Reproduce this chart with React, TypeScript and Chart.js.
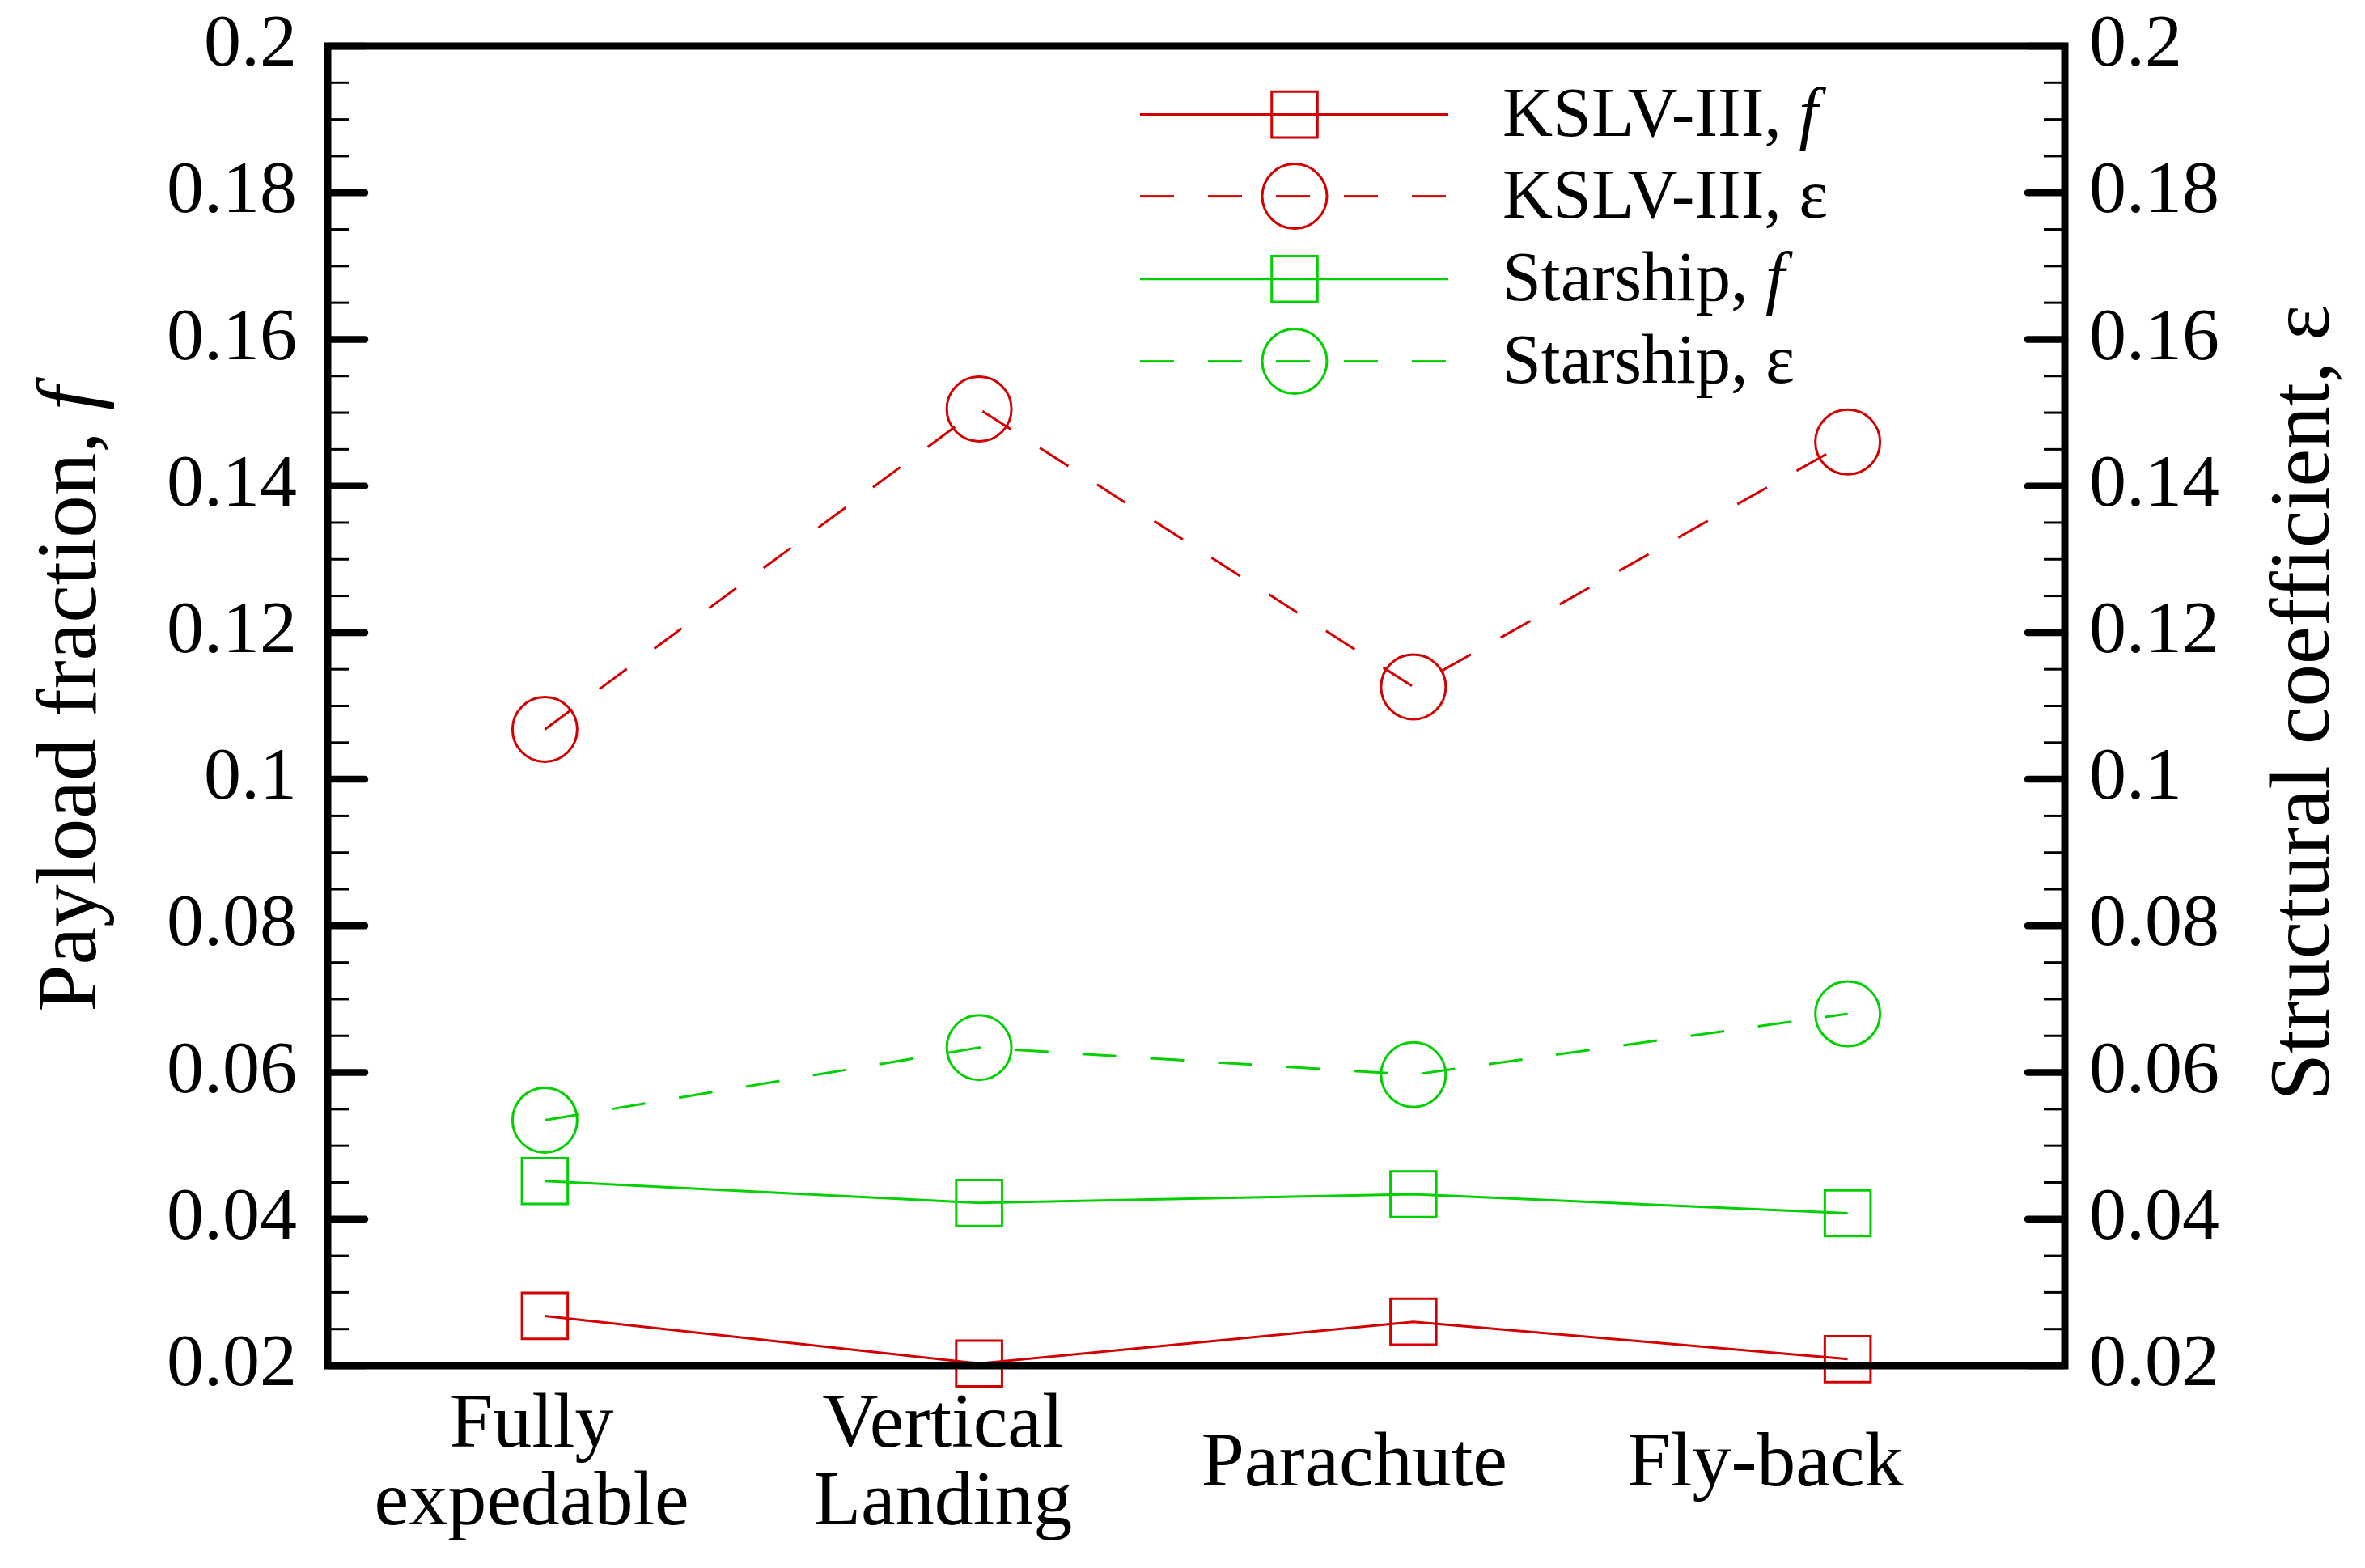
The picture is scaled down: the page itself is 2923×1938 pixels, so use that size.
import React, { useEffect, useRef } from 'react';
import { Chart, registerables } from 'chart.js';

Chart.register(...registerables);

// ---------- data ----------
const categories = ['Fully expedable', 'Vertical Landing', 'Parachute', 'Fly-back'];
const categoryLabelLines = [['Fully', 'expedable'], ['Vertical', 'Landing'], ['Parachute'], ['Fly-back']];
const kslvF = [0.0268, 0.0203, 0.026, 0.0209];
const kslvEps = [0.1068, 0.1505, 0.1126, 0.146];
const starshipF = [0.0452, 0.0422, 0.0434, 0.0408];
const starshipEps = [0.0535, 0.0634, 0.0597, 0.068];
const majorTicks = [0.02, 0.04, 0.06, 0.08, 0.1, 0.12, 0.14, 0.16, 0.18, 0.2];
const minorPerMajor = 4;
const legendNames = ['KSLV-III, ', 'KSLV-III, ', 'Starship, ', 'Starship, '];
const legendSymbols = ['f', 'ε', 'f', 'ε'];
const leftTitleParts = ['Payload fraction, ', 'f'];
const rightTitle = 'Structural coefficient, ε';

const RED = 'rgb(210,0,0)';
const GREEN = 'rgb(0,208,0)';
const FONT = '"Liberation Serif", "Times New Roman", serif';

const W = 2923;
const H = 1938;

function buildYTicks() {
  const out: { value: number; major: boolean }[] = [];
  for (let i = 0; i < majorTicks.length; i++) {
    out.push({ value: majorTicks[i], major: true });
    if (i < majorTicks.length - 1) {
      const a = majorTicks[i];
      const b = majorTicks[i + 1];
      for (let k = 1; k < minorPerMajor; k++) {
        out.push({ value: a + ((b - a) * k) / minorPerMajor, major: false });
      }
    }
  }
  return out;
}

function fmt(v: number) {
  return String(Number(v.toFixed(3)));
}

const framePlugin = {
  id: 'frameTicks',
  afterDatasetsDraw(chart: any) {
    const { ctx, chartArea } = chart;
    const { left, right, top, bottom } = chartArea;
    ctx.save();
    ctx.strokeStyle = '#000';
    const drawTicks = (scale: any, side: 'left' | 'right') => {
      scale.ticks.forEach((t: any) => {
        const py = scale.getPixelForValue(t.value);
        const major = !!t.major;
        const len = major ? 46 : 26;
        ctx.lineWidth = major ? 8.5 : 3;
        ctx.lineCap = major ? 'round' : 'butt';
        ctx.beginPath();
        if (side === 'left') {
          ctx.moveTo(left, py);
          ctx.lineTo(left + len, py);
        } else {
          ctx.moveTo(right, py);
          ctx.lineTo(right - len, py);
        }
        ctx.stroke();
      });
    };
    drawTicks(chart.scales.y, 'left');
    drawTicks(chart.scales.y1, 'right');
    ctx.lineCap = 'butt';
    ctx.lineJoin = 'miter';
    ctx.lineWidth = 9;
    ctx.strokeRect(left, top, right - left, bottom - top);
    ctx.restore();
  },
  afterDraw(chart: any) {
    const { ctx, chartArea } = chart;
    const cy = (chartArea.top + chartArea.bottom) / 2;
    ctx.save();
    ctx.fillStyle = '#000';
    // left title, rotated reading bottom-to-top
    ctx.save();
    ctx.translate(118, cy - 8);
    ctx.rotate(-Math.PI / 2);
    ctx.textBaseline = 'alphabetic';
    ctx.textAlign = 'left';
    ctx.font = `105px ${FONT}`;
    const w1 = ctx.measureText(leftTitleParts[0]).width;
    ctx.font = `italic 105px ${FONT}`;
    const w2 = ctx.measureText(leftTitleParts[1]).width;
    const start = -(w1 + w2) / 2;
    ctx.font = `105px ${FONT}`;
    ctx.fillText(leftTitleParts[0], start, 0);
    ctx.font = `italic 105px ${FONT}`;
    ctx.fillText(leftTitleParts[1], start + w1, 0);
    ctx.restore();
    // right title, also bottom-to-top
    ctx.save();
    ctx.translate(2878, cy - 4);
    ctx.rotate(-Math.PI / 2);
    ctx.textBaseline = 'alphabetic';
    ctx.textAlign = 'center';
    ctx.font = `105px ${FONT}`;
    ctx.fillText(rightTitle, 0, 0);
    ctx.restore();

    // legend
    const rowsY = [141.6, 242.6, 344.8, 446.6];
    const lineX0 = 1409;
    const lineX1 = 1790;
    const markX = 1600;
    const textX = 1857;
    chart.data.datasets.forEach((ds: any, i: number) => {
      const y = rowsY[i];
      ctx.save();
      ctx.strokeStyle = ds.borderColor;
      ctx.lineWidth = ds.borderWidth;
      ctx.setLineDash(ds.borderDash || []);
      ctx.beginPath();
      ctx.moveTo(lineX0, y);
      ctx.lineTo(lineX1, y);
      ctx.stroke();
      ctx.setLineDash([]);
      ctx.lineWidth = ds.pointBorderWidth;
      ctx.beginPath();
      if (ds.pointStyle === 'rect') {
        const s = ds.pointRadius * Math.SQRT1_2;
        ctx.rect(markX - s, y - s, 2 * s, 2 * s);
      } else {
        ctx.arc(markX, y, ds.pointRadius, 0, Math.PI * 2);
      }
      ctx.stroke();
      ctx.restore();

      ctx.fillStyle = '#000';
      ctx.textBaseline = 'alphabetic';
      ctx.textAlign = 'left';
      ctx.font = `86px ${FONT}`;
      const nw = ctx.measureText(legendNames[i]).width;
      ctx.fillText(legendNames[i], textX, y + 26);
      ctx.font = legendSymbols[i] === 'f' ? `italic 86px ${FONT}` : `86px ${FONT}`;
      ctx.fillText(legendSymbols[i], textX + nw, y + 26);
    });
    ctx.restore();
  },
};

function makeDataset(label: string, data: number[], color: string, style: string, dashed: boolean, axis: string) {
  return {
    label,
    data,
    xAxisID: 'x',
    yAxisID: axis,
    borderColor: color,
    backgroundColor: 'transparent',
    borderWidth: 3,
    borderDash: dashed ? [42, 42] : [],
    pointStyle: style,
    pointRadius: 40,
    pointHoverRadius: 40,
    pointBorderWidth: 3,
    pointBorderColor: color,
    pointBackgroundColor: 'transparent',
    tension: 0,
    fill: false,
    clip: false,
  };
}

export default function App() {
  const ref = useRef<HTMLCanvasElement | null>(null);
  useEffect(() => {
    if (!ref.current) return;
    const yTicks = buildYTicks();
    const yAxis = (position: 'left' | 'right', width: number, padding: number) => ({
      type: 'linear',
      position,
      min: majorTicks[0],
      max: majorTicks[majorTicks.length - 1],
      afterBuildTicks: (s: any) => {
        s.ticks = yTicks.map((t) => ({ value: t.value, major: t.major }));
      },
      afterFit: (s: any) => {
        s.width = width;
        s.paddingTop = 0;
        s.paddingBottom = 0;
      },
      grid: { display: false, drawTicks: false },
      border: { display: false },
      ticks: {
        autoSkip: false,
        padding,
        color: '#000',
        font: { family: FONT, size: 92 },
        callback: function (this: any, v: any, idx: number) {
          const t = yTicks[idx];
          return t && t.major ? fmt(Number(v)) : '';
        },
      },
    });
    const chart = new Chart(ref.current, {
      type: 'line',
      data: {
        labels: categories,
        datasets: [
          makeDataset('KSLV-III, f', kslvF, RED, 'rect', false, 'y'),
          makeDataset('KSLV-III, ε', kslvEps, RED, 'circle', true, 'y1'),
          makeDataset('Starship, f', starshipF, GREEN, 'rect', false, 'y'),
          makeDataset('Starship, ε', starshipEps, GREEN, 'circle', true, 'y1'),
        ] as any,
      },
      options: {
        animation: false,
        responsive: false,
        devicePixelRatio: 1,
        events: [],
        layout: { padding: { top: 57, left: 0, right: 0, bottom: 0 } },
        plugins: { legend: { display: false }, tooltip: { enabled: false }, title: { display: false } },
        scales: {
          x: { type: 'category', offset: true, display: false },
          x2: {
            type: 'linear',
            position: 'bottom',
            min: -0.496,
            max: 3.728,
            afterBuildTicks: (s: any) => {
              s.ticks = categoryLabelLines.map((_, i) => ({ value: i }));
            },
            afterFit: (s: any) => {
              s.height = H - 1688;
              s.paddingLeft = 0;
              s.paddingRight = 0;
            },
            grid: { display: false, drawTicks: false },
            border: { display: false },
            ticks: {
              autoSkip: false,
              maxRotation: 0,
              minRotation: 0,
              padding: 75,
              crossAlign: 'center',
              color: '#000',
              font: { family: FONT, size: 96, lineHeight: 1.0 },
              callback: (v: any) => categoryLabelLines[Math.round(Number(v))] ?? '',
            },
          },
          y: yAxis('left', 405, 38),
          y1: yAxis('right', W - 2552, 30),
        } as any,
      },
      plugins: [framePlugin],
    } as any);
    return () => chart.destroy();
  }, []);
  return (
    <div style={{ position: 'fixed', left: 0, top: 0, width: W, height: H, background: '#fff' }}>
      <canvas ref={ref} width={W} height={H} style={{ width: W, height: H, display: 'block' }} />
    </div>
  );
}
